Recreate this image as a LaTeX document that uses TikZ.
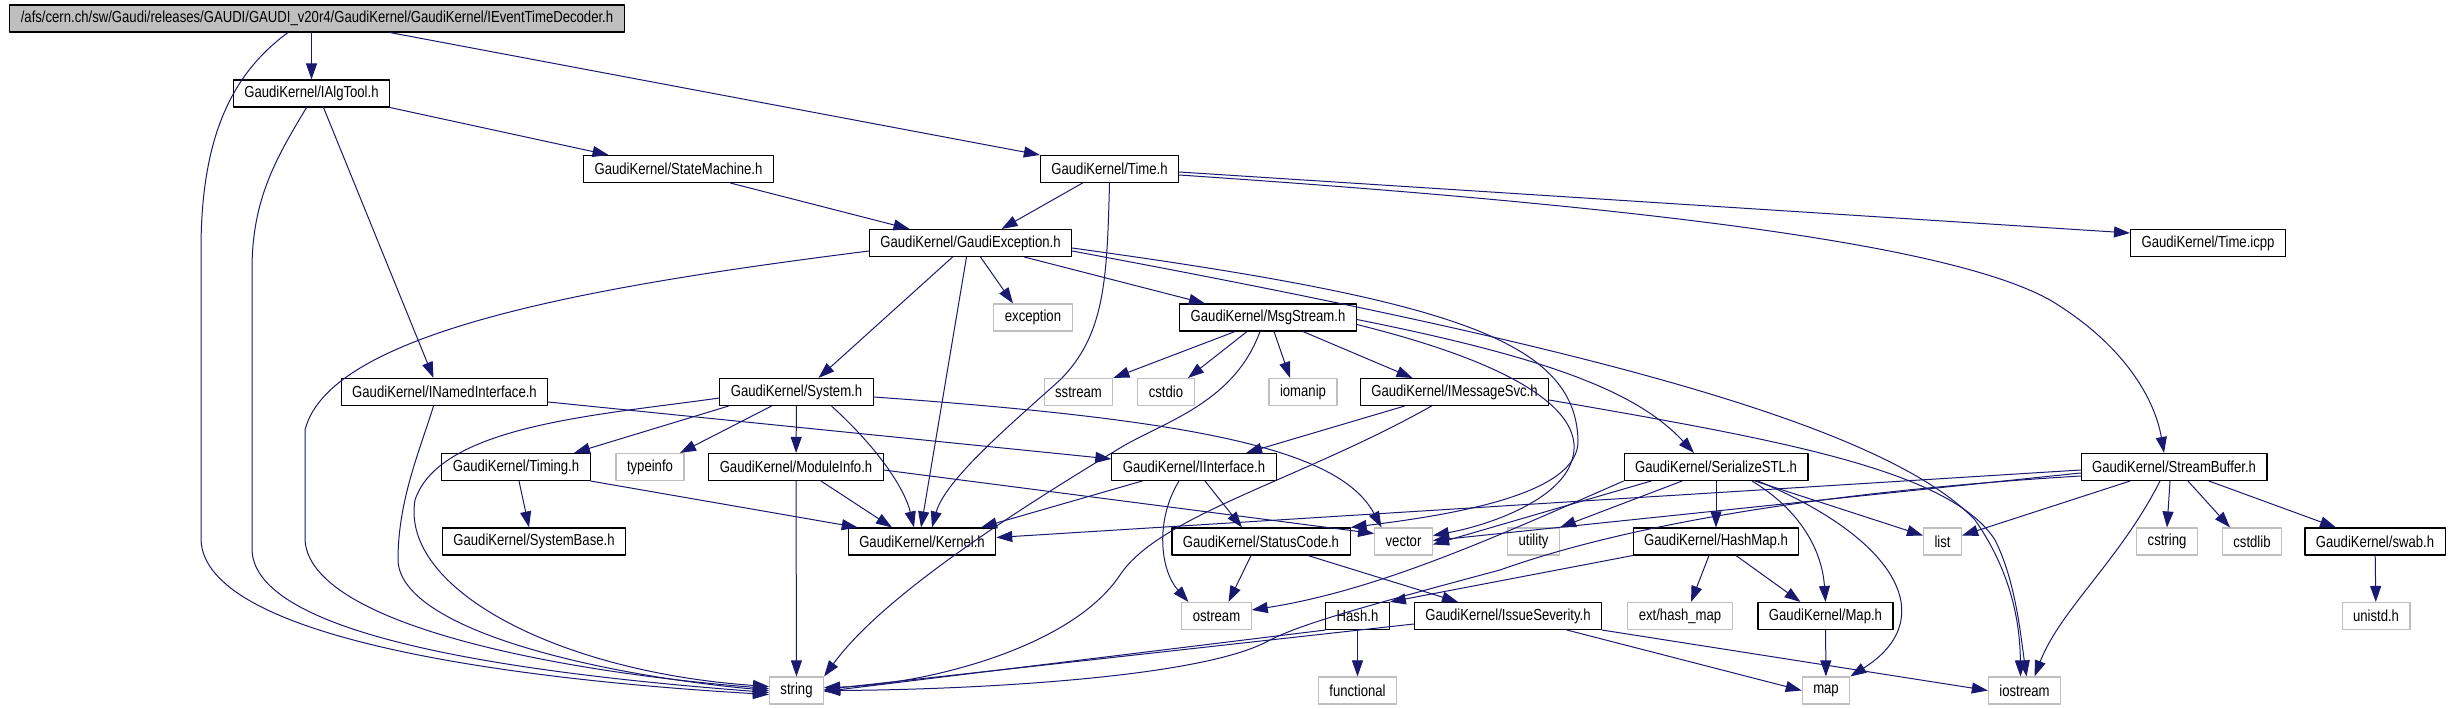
\documentclass[tikz,border=0pt]{standalone}
\usepackage{fontspec}
\newfontfamily\graphfont{Liberation Sans}[FakeStretch=0.82]
\usetikzlibrary{arrows.meta}
\definecolor{edgeblue}{RGB}{25,25,112}
\definecolor{sysgrey}{RGB}{191,191,191}

\begin{document}
\begin{tikzpicture}[x=1pt,y=-1pt,line cap=round,line join=round,
  box/.style={rectangle,line width=1.1pt,inner xsep=11pt,inner ysep=0pt,
    minimum height=27pt,font=\graphfont\fontsize{16}{18}\selectfont},
  hdr/.style={box,draw=black},
  syshdr/.style={box,draw=sysgrey},
  inc/.style={edgeblue,line width=1pt,-{Triangle[length=16pt,width=11pt]}}]
 \useasboundingbox (0,0) rectangle (2450,709);
 \node[hdr,fill=sysgrey] (root) at (317,18.5)
  {/afs/cern.ch/sw/Gaudi/releases/GAUDI/GAUDI\_v20r4/GaudiKernel/GaudiKernel/IEventTimeDecoder.h};
 \node[hdr] (algtool) at (311.5,93.5) {GaudiKernel/IAlgTool.h};
 \node[hdr] (statemachine) at (678.5,169) {GaudiKernel/StateMachine.h};
 \node[hdr] (time) at (1109.5,169) {GaudiKernel/Time.h};
 \node[hdr] (gaudiexc) at (970.5,243) {GaudiKernel/GaudiException.h};
 \node[hdr] (timeicpp) at (2208,243) {GaudiKernel/Time.icpp};
 \node[syshdr] (exception) at (1033,317.5) {exception};
 \node[hdr] (msgstream) at (1268,317.5) {GaudiKernel/MsgStream.h};
 \node[hdr] (namedif) at (444.5,392) {GaudiKernel/INamedInterface.h};
 \node[hdr] (system) at (796.5,392) {GaudiKernel/System.h};
 \node[syshdr] (sstream) at (1078.5,392) {sstream};
 \node[syshdr] (cstdio) at (1166,392) {cstdio};
 \node[syshdr] (iomanip) at (1303,392) {iomanip};
 \node[hdr] (imsgsvc) at (1454.5,392) {GaudiKernel/IMessageSvc.h};
 \node[hdr] (timing) at (516,467) {GaudiKernel/Timing.h};
 \node[syshdr] (typeinfo) at (650,467) {typeinfo};
 \node[hdr] (moduleinfo) at (796,467) {GaudiKernel/ModuleInfo.h};
 \node[hdr] (iinterface) at (1194,467) {GaudiKernel/IInterface.h};
 \node[hdr] (serialize) at (1716,467) {GaudiKernel/SerializeSTL.h};
 \node[hdr] (streambuf) at (2174,467) {GaudiKernel/StreamBuffer.h};
 \node[hdr] (systembase) at (534,541.5) {GaudiKernel/SystemBase.h};
 \node[hdr] (kernel) at (922,541.5) {GaudiKernel/Kernel.h};
 \node[hdr] (statuscode) at (1261,541.5) {GaudiKernel/StatusCode.h};
 \node[syshdr] (vector) at (1403.5,541.5) {vector};
 \node[syshdr] (utility) at (1533.5,541.5) {utility};
 \node[hdr] (hashmap) at (1716,541.5) {GaudiKernel/HashMap.h};
 \node[syshdr] (list) at (1942.5,541.5) {list};
 \node[syshdr] (cstring) at (2167,541.5) {cstring};
 \node[syshdr] (cstdlib) at (2252,541.5) {cstdlib};
 \node[hdr] (swab) at (2375,541.5) {GaudiKernel/swab.h};
 \node[syshdr] (ostream) at (1216.5,616) {ostream};
 \node[hdr] (hash) at (1357.5,616) {Hash.h};
 \node[hdr] (severity) at (1508,616) {GaudiKernel/IssueSeverity.h};
 \node[syshdr] (exthashmap) at (1680,616) {ext/hash\_map};
 \node[hdr] (maph) at (1825.5,616) {GaudiKernel/Map.h};
 \node[syshdr] (unistd) at (2376,616) {unistd.h};
 \node[syshdr] (string) at (796.5,690.5) {string};
 \node[syshdr] (functional) at (1357.5,690.5) {functional};
 \node[syshdr] (map) at (1826,690.5) {map};
 \node[syshdr] (iostream) at (2024.5,690.5) {iostream};

 \draw[inc] (root.south -| algtool) -- (algtool);
 \draw[inc] ([xshift=73pt]root.south) -- (time.north west);
 \draw[inc] ([xshift=-29pt]root.south) .. controls (230,75) and (201,140) .. (201,250)
  -- (201,540) .. controls (205,640) and (520,680) .. ([yshift=-4pt]string.west);
 \draw[inc] (algtool.south east) -- ([xshift=-70pt]statemachine.north);
 \draw[inc] ([xshift=12pt]algtool.south) -- ([xshift=-11pt]namedif.north);
 \draw[inc] ([xshift=-5pt]algtool.south) .. controls (275,160) and (252,200) .. (252,270)
  -- (252,550) .. controls (255,640) and (540,675) .. ([yshift=-2pt]string.west);
 \draw[inc] ([yshift=-10pt]namedif.east) -- ([yshift=8pt]iinterface.west);
 \draw[inc] ([xshift=-11pt]namedif.south) .. controls (420,450) and (398,500) .. (398,560)
  .. controls (400,630) and (600,675) .. (string.west);
 \draw[inc] ([xshift=52pt]statemachine.south) -- ([xshift=-61pt]gaudiexc.north);
 \draw[inc] ([xshift=-27pt]time.south) -- ([xshift=31pt]gaudiexc.north);
 \draw[inc] (time.south) .. controls (1107,280) and (1105,335) .. (1060,380)
  .. controls (1010,425) and (945,480) .. ([xshift=10pt]kernel.north);
 \draw[inc] ([yshift=-3pt]time.east) -- ([yshift=10pt]timeicpp.west);
 \draw[inc] ([yshift=-6pt]time.east) .. controls (1700,210) and (1960,250) .. (2050,300)
  .. controls (2125,345) and (2155,400) .. ([xshift=-10pt]streambuf.north);

 \draw[inc] ([yshift=-8pt]gaudiexc.west) .. controls (600,285) and (330,330) .. (305,430)
  -- (305,540) .. controls (310,625) and (560,672) .. ([yshift=2pt]string.west);
 \draw[inc] ([xshift=10pt]gaudiexc.south) -- ([xshift=-20pt]exception.north);
 \draw[inc] ([xshift=54pt]gaudiexc.south) -- ([xshift=-63pt]msgstream.north);
 \draw[inc] ([xshift=-18pt]gaudiexc.south) -- ([xshift=22pt]system.north);
 \draw[inc] ([xshift=-4pt]gaudiexc.south) -- ([xshift=-1pt]kernel.north);
 \draw[inc] ([yshift=-5pt]gaudiexc.east) .. controls (1450,300) and (1575,340) .. (1578,440)
  .. controls (1580,495) and (1450,515) .. (statuscode.north east);
 \draw[inc] ([yshift=-8pt]gaudiexc.east) .. controls (1550,340) and (1880,420) .. (1975,520)
  .. controls (2010,570) and (2020,620) .. ([xshift=-4pt]iostream.north);

 \draw[inc] ([xshift=-33pt]msgstream.south) -- (sstream.north east);
 \draw[inc] ([xshift=-21pt]msgstream.south) -- ([xshift=22pt]cstdio.north);
 \draw[inc] ([xshift=6pt]msgstream.south) -- ([xshift=-13pt]iomanip.north);
 \draw[inc] ([xshift=35pt]msgstream.south) -- ([xshift=-42pt]imsgsvc.north);
 \draw[inc] ([xshift=-8pt]msgstream.south) .. controls (1235,400) and (1170,420) .. (1125,445)
  .. controls (1000,520) and (880,600) .. (string.north east);
 \draw[inc] ([yshift=-2pt]msgstream.east) .. controls (1560,360) and (1640,395) .. ([xshift=-22pt]serialize.north);
 \draw[inc] ([yshift=-7pt]msgstream.east) .. controls (1540,370) and (1585,420) .. (1572,460)
  .. controls (1560,500) and (1490,525) .. ([yshift=6pt]vector.east);

 \draw[inc] ([xshift=-50pt]imsgsvc.south) -- ([xshift=52pt]iinterface.north);
 \draw[inc] ([xshift=-23pt]imsgsvc.south) .. controls (1300,480) and (1160,515) .. (1120,575)
  .. controls (1070,650) and (920,685) .. ([yshift=3pt]string.east);
 \draw[inc] ([yshift=-8pt]imsgsvc.east) .. controls (1780,440) and (1950,470) .. (1995,540)
  .. controls (2015,580) and (2020,630) .. ([xshift=2pt]iostream.north);

 \draw[inc] ([xshift=-68pt]system.south) -- ([xshift=58pt]timing.north);
 \draw[inc] ([xshift=-25pt]system.south) -- ([xshift=30pt]typeinfo.north);
 \draw[inc] (system) -- (moduleinfo);
 \draw[inc] ([xshift=35pt]system.south) .. controls (880,450) and (905,490) .. ([xshift=-8pt]kernel.north);
 \draw[inc] ([yshift=-6pt]system.west) .. controls (600,415) and (440,425) .. (415,500)
  .. controls (400,590) and (560,672) .. ([yshift=4pt]string.west);
 \draw[inc] ([yshift=-5pt]system.east) .. controls (1200,420) and (1340,450) .. ([xshift=-22pt]vector.north);

 \draw[inc] ([xshift=3pt]timing.south) -- ([xshift=-5pt]systembase.north);
 \draw[inc] (timing.south east) -- ([xshift=10pt]kernel.north west);
 \draw[inc] (moduleinfo) -- (string);
 \draw[inc] ([xshift=25pt]moduleinfo.south) -- ([xshift=-30pt]kernel.north);
 \draw[inc] ([yshift=-3pt]moduleinfo.east) -- ([yshift=8pt]vector.west);

 \draw[inc] ([xshift=-52pt]iinterface.south) -- ([xshift=59pt]kernel.north);
 \draw[inc] ([xshift=11pt]iinterface.south) -- ([xshift=-19pt]statuscode.north);
 \draw[inc] ([xshift=-15pt]iinterface.south) .. controls (1155,520) and (1160,570) .. ([xshift=-28pt]ostream.north);
 \draw[inc] ([xshift=-10pt]statuscode.south) -- ([xshift=12pt]ostream.north);
 \draw[inc] ([xshift=47pt]statuscode.south) -- ([xshift=-50pt]severity.north);

 \draw[inc] ([yshift=-8pt]severity.west) -- ([yshift=1pt]string.east);
 \draw[inc] ([xshift=59pt]severity.south) -- (map.west);
 \draw[inc] (severity.south east) -- (iostream.west);
 \draw[inc] (hash.south west) -- ([yshift=-1pt]string.east);
 \draw[inc] (hash) -- (functional);

 \draw[inc] (hashmap.south west) -- (hash.north east);
 \draw[inc] ([xshift=-7pt]hashmap.south) -- ([xshift=11pt]exthashmap.north);
 \draw[inc] ([xshift=20pt]hashmap.south) -- ([xshift=-25pt]maph.north);
 \draw[inc] (maph) -- (map);

 \draw[inc] (serialize) -- (hashmap);
 \draw[inc] ([xshift=39pt]serialize.south) -- ([yshift=6pt]list.west);
 \draw[inc] ([xshift=36pt]serialize.south) .. controls (1800,510) and (1822,550) .. (maph.north);
 \draw[inc] ([xshift=42pt]serialize.south) .. controls (1900,540) and (1940,620) .. (map.north east);
 \draw[inc] ([xshift=-34pt]serialize.south) -- (utility.north east);
 \draw[inc] ([xshift=-65pt]serialize.south) -- ([yshift=-3pt]vector.east);
 \draw[inc] (serialize.south west) .. controls (1500,535) and (1380,590) .. ([yshift=6pt]ostream.east);

 \draw[inc] ([yshift=-3pt]streambuf.west) -- ([yshift=4pt]kernel.east);
 \draw[inc] ([yshift=-6pt]streambuf.west) -- ([yshift=1pt]vector.east);
 \draw[inc] ([yshift=-9pt]streambuf.west) .. controls (1850,490) and (1640,520) .. (1500,570)
  .. controls (1350,610) and (1300,625) .. (1270,640)
  .. controls (1200,680) and (950,690) .. (string.east);
 \draw[inc] ([xshift=-44pt]streambuf.south) -- ([yshift=6pt]list.east);
 \draw[inc] ([xshift=-4pt]streambuf.south) -- (cstring.north);
 \draw[inc] ([xshift=14pt]streambuf.south) -- ([xshift=-22pt]cstdlib.north);
 \draw[inc] ([xshift=35pt]streambuf.south) -- ([xshift=-39pt]swab.north);
 \draw[inc] ([xshift=-14pt]streambuf.south) .. controls (2120,560) and (2060,610) .. ([xshift=10pt]iostream.north);
 \draw[inc] (swab) -- (unistd);
\end{tikzpicture}
\end{document}
